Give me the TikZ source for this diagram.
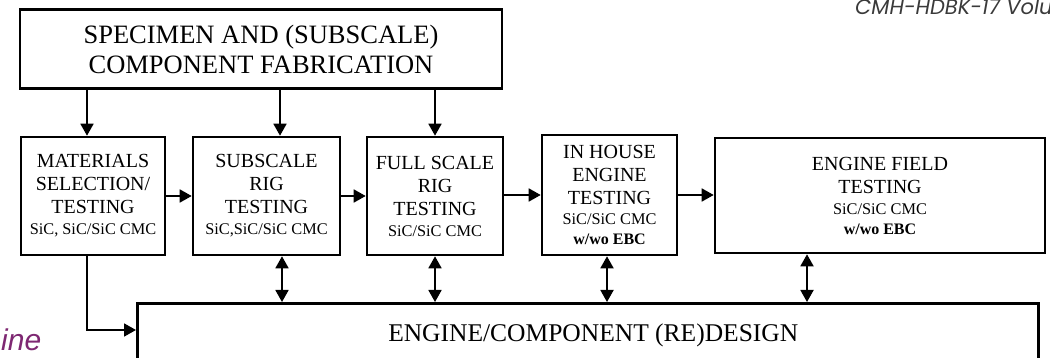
\documentclass[tikz,border=0pt]{standalone}
\usepackage{fontspec}
\setmainfont{Liberation Serif}
\newfontfamily\hdrfont{Poppins}
\newfontfamily\arialfont{Liberation Sans}
\usetikzlibrary{arrows.meta}
\definecolor{hdrgray}{HTML}{3A3A3A}
\definecolor{slidepurple}{HTML}{7E2872}
\tikzset{
  box/.style={draw=black, line width=2.6pt, inner sep=0pt, align=center,
    font=\fontsize{20}{23}\selectfont},
  arr/.style={line width=1.8pt, -{Triangle[length=12pt,width=13pt]}},
  darr/.style={line width=1.8pt, {Triangle[length=12pt,width=13pt]}-{Triangle[length=12pt,width=13pt]}},
}
\newcommand{\sm}[1]{{\fontsize{16.3}{19}\selectfont #1}}
\newcommand{\smb}[1]{{\fontsize{16}{19}\selectfont\bfseries #1}}
\begin{document}
\begin{tikzpicture}[x=1pt,y=-1pt]
\useasboundingbox (0,0) rectangle (1050,358);
\clip (0,0) rectangle (1050,358);
% header and slide fragment
\node[anchor=base west, inner sep=0pt, text=hdrgray, font=\hdrfont\itshape\fontsize{21}{22}\selectfont] (hdr) at (855,15) {CMH-HDBK-17 Volu};
\node[anchor=base west, inner sep=0pt, text=slidepurple, font=\arialfont\itshape\fontsize{30}{31}\selectfont] (frag) at (1,350) {ine};
% top box
\node[box, minimum width=482, minimum height=79, font=\fontsize{26.5}{30}\selectfont] (top) at (261,49)
  {SPECIMEN AND (SUBSCALE)\\COMPONENT FABRICATION};
% row of boxes
\node[box, minimum width=144, minimum height=118] (b1) at (93,196)
  {MATERIALS\\SELECTION/\\TESTING\\[-2pt]\sm{SiC, SiC/SiC CMC}};
\node[box, minimum width=147, minimum height=118] (b2) at (266.5,196)
  {SUBSCALE\\RIG\\TESTING\\[-2pt]\sm{SiC,SiC/SiC CMC}};
\node[box, minimum width=136, minimum height=118] (b3) at (435,196)
  {FULL SCALE\\RIG\\TESTING\\[-2pt]\sm{SiC/SiC CMC}};
\node[box, minimum width=135, minimum height=120] (b4) at (609.5,195)
  {IN HOUSE\\ENGINE\\TESTING\\[-3pt]\sm{SiC/SiC CMC}\\[-3pt]\smb{w/wo EBC}};
\node[box, minimum width=330, minimum height=115] (b5) at (880,195.5)
  {ENGINE FIELD\\TESTING\\[-2pt]\sm{SiC/SiC CMC}\\[-3pt]\smb{w/wo EBC}};
% bottom box
\node[box, anchor=north west, minimum width=901, text height=38pt, text depth=60pt,
  font=\fontsize{25.5}{28}\selectfont] (bot) at (136,302)
  {\hspace*{11pt}ENGINE/COMPONENT (RE)DESIGN};
% arrows from top box
\draw[arr] (top.south -| 87,0) -- (b1.north -| 87,0);
\draw[arr] (top.south -| 280,0) -- (b2.north -| 280,0);
\draw[arr] (top.south -| 435,0) -- (b3.north -| 435,0);
% horizontal arrows
\draw[arr] (b1.east) -- (b2.west);
\draw[arr] (b2.east) -- (b3.west);
\draw[arr] (b3.east |- 0,195) -- (b4.west |- 0,195);
\draw[arr] (b4.east |- 0,195) -- (b5.west |- 0,195);
% double arrows to redesign box
\draw[darr] (b2.south -| 282,0) -- (bot.north -| 282,0);
\draw[darr] (b3.south -| 435,0) -- (bot.north -| 435,0);
\draw[darr] (b4.south -| 607,0) -- (bot.north -| 607,0);
\draw[darr] (b5.south -| 807,0) -- (bot.north -| 807,0);
% materials to redesign
\draw[arr] (b1.south -| 87,0) |- (bot.west |- 0,330);
\end{tikzpicture}
\end{document}
